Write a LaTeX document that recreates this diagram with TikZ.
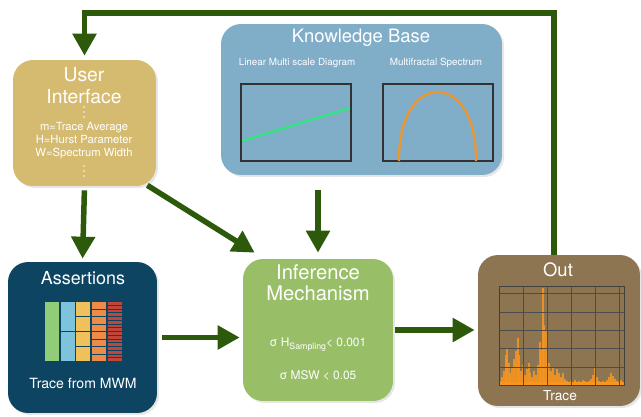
\documentclass[tikz,border=0pt]{standalone}
\usepackage{fontspec}
\setmainfont{TeX Gyre Heros}
\usetikzlibrary{arrows.meta,shadows,calc}

\definecolor{uiFill}{RGB}{213,187,112}
\definecolor{kbFill}{RGB}{128,173,199}
\definecolor{assertFill}{RGB}{12,68,98}
\definecolor{inferFill}{RGB}{152,191,104}
\definecolor{outFill}{RGB}{140,117,80}
\definecolor{linkGreen}{RGB}{45,90,10}
\definecolor{frameGray}{RGB}{50,50,50}
\definecolor{lineGreen}{RGB}{50,230,130}
\definecolor{archOrange}{RGB}{240,150,45}
\definecolor{spikeOrange}{RGB}{250,150,30}
\definecolor{barGreen}{RGB}{145,205,120}
\definecolor{barBlue}{RGB}{125,195,220}
\definecolor{barYellow}{RGB}{240,192,90}
\definecolor{barOrange}{RGB}{236,140,70}
\definecolor{barRed}{RGB}{192,70,58}

\begin{document}
\begin{tikzpicture}[x=0.02cm,y=-0.02cm,
    box/.style={rounded corners=0.4cm, inner sep=0pt,
        drop shadow={opacity=0.2, shadow xshift=0.04cm, shadow yshift=-0.04cm}},
    link/.style={draw=linkGreen, line width=0.11cm, line join=miter,
        -{Triangle[length=0.44cm,width=0.46cm]}},
    txt/.style={text=white, inner sep=0pt, align=center}]
\useasboundingbox (0,0) rectangle (641,416);

% boxes
\node[box, fill=uiFill, minimum width=2.86cm, minimum height=2.52cm] (ui) at (84.5,123) {};
\node[box, fill=kbFill, minimum width=5.62cm, minimum height=3.02cm] (kb) at (361.5,99.5) {};
\node[box, fill=assertFill, minimum width=2.98cm, minimum height=3.02cm] (assert) at (82.5,337.5) {};
\node[box, fill=inferFill, minimum width=3.0cm, minimum height=2.84cm] (infer) at (318,330) {};
\node[box, fill=outFill, minimum width=3.24cm, minimum height=3.02cm] (out) at (559,330.5) {};

% user interface
\node[txt, font=\fontsize{11}{12.5}\selectfont] (uiA) at (84,86) {User\\Interface};
\node[txt, font=\fontsize{6.4}{7.4}\selectfont] (uiB) at (84,141) {m=Trace Average\\H=Hurst Parameter\\W=Spectrum Width};
\foreach \y in {107,112,117,166,171,176}
  \fill[white, opacity=0.9] (84,\y) circle (0.8);

% knowledge base
\node[txt, font=\fontsize{10.5}{10.5}\selectfont] (kbA) at (361,38) {Knowledge Base};
\node[txt, font=\fontsize{5.6}{5.6}\selectfont] (kbB) at (297,63) {Linear Multi scale Diagram};
\node[txt, font=\fontsize{5.6}{5.6}\selectfont] (kbC) at (436,63) {Multifractal Spectrum};
\draw[frameGray, line width=0.6pt] (241,84) rectangle (351,161);
\draw[frameGray, line width=0.6pt] (383,84) rectangle (493,161);
\draw[lineGreen, line width=1.3pt] (242,141) -- (350,108);
\draw[archOrange, line width=1.3pt] (399,161) .. controls (398,69) and (477,69) .. (476,161);

% assertions
\node[txt, font=\fontsize{10.2}{10.2}\selectfont] (asA) at (83,278) {Assertions};
\node[txt, font=\fontsize{8}{8}\selectfont] (asB) at (83,383) {Trace from MWM};
\foreach \col/\xl/\n in {barGreen/45/1, barBlue/61/2, barYellow/76/4, barOrange/92/8, barRed/108/16}
  \foreach \i in {1,...,\n}
    \fill[\col] (\xl,{302+(\i-1)*60/\n}) rectangle ++(14,{60/\n-0.9});

% inference mechanism
\node[txt, font=\fontsize{11.5}{12}\selectfont] (imA) at (318,283) {Inference\\Mechanism};
\node[txt, font=\fontsize{6.8}{6.8}\selectfont] (imC) at (318,345) {σ H\raisebox{-0.5ex}{\fontsize{5}{5}\selectfont Sampling}< 0.001};
\node[txt, font=\fontsize{6.8}{6.8}\selectfont] (imD) at (318,375) {σ MSW < 0.05};

% out
\node[txt, font=\fontsize{10.5}{10.5}\selectfont] (otA) at (558,270) {Out};
\node[txt, font=\fontsize{7.8}{7.8}\selectfont] (otB) at (560,396) {Trace};
\fill[spikeOrange, opacity=0.9] (500,385) rectangle (623,382);
\foreach \x/\h in {500/4, 502/8, 504/14, 506/30, 507/37, 509/22, 510/12, 512/18,
    514/26, 516/34, 518/47, 519/30, 521/14, 523/20, 525/10, 527/16, 529/22, 530/12,
    532/8, 534/14, 536/10, 538/20, 540/43, 541/35, 543/97, 544/60, 546/55, 547/30,
    549/22, 551/14, 553/18, 555/10, 557/16, 559/12, 561/8, 563/12, 565/6, 567/4,
    569/3, 571/4, 573/3, 575/5, 577/3, 579/4, 581/3, 583/5, 585/4, 587/3, 589/4,
    591/6, 593/10, 595/18, 597/8, 599/4, 601/3, 603/4, 605/3, 607/5, 609/8, 611/12,
    613/9, 615/6, 617/4, 619/3, 621/5, 623/3}
  \draw[spikeOrange, opacity=0.85, line width=0.7pt] (\x,385) -- ++(0,-\h);
\foreach \x in {523,547,571,595,619}
  \draw[black!70, line width=0.3pt] (\x,286) -- (\x,385);
\foreach \y in {293,312,330,348,367}
  \draw[black!70, line width=0.3pt] (499,\y) -- (624,\y);
\draw[black!75, line width=0.4pt] (499,286) rectangle (624,385);

% connectors
\coordinate (top) at (0,13);
\coordinate (outtap) at ($(out.north)+(-5,0)$);
\draw[link, shorten <=0.08cm, shorten >=0.06cm] (ui.south) -- (assert.north);
\draw[link] ($(ui.south east)+(-9,-1)$) -- ($(infer.north west)+(12,-6)$);
\draw[link, shorten <=0.3cm, shorten >=0.12cm] (kb.south -| infer.north) -- (infer.north);
\draw[link, shorten <=0.1cm, shorten >=0.06cm] (assert.east) -- (assert.east -| infer.west);
\draw[link, shorten <=0.04cm, shorten >=0.06cm] (infer.east) -- (infer.east -| out.west);
\draw[link, shorten >=0.08cm] (outtap) -- (outtap |- top) -- (ui.north |- top) -- (ui.north);
\end{tikzpicture}
\end{document}
